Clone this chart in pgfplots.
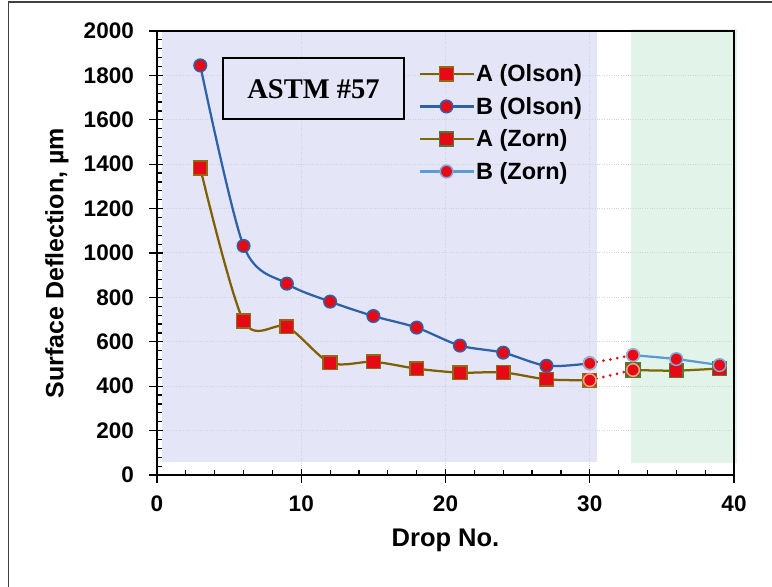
\documentclass[border=0pt]{standalone}
\usepackage{fontspec}
\setmainfont{Liberation Sans}
\newfontfamily\timesfont{Liberation Serif}
\usepackage{pgfplots}
\pgfplotsset{compat=1.18}

\definecolor{lav}{HTML}{E5E5F8}
\definecolor{mint}{HTML}{E2F4E9}
\definecolor{aolson}{HTML}{7F6000}
\definecolor{aedge}{HTML}{8F6B14}
\definecolor{bolson}{HTML}{2E62A6}
\definecolor{azorn}{HTML}{7A6A00}
\definecolor{azornedge}{HTML}{4F7A35}
\definecolor{bzorn}{HTML}{5B9BD5}
\definecolor{bzornedge}{HTML}{7FA8DA}
\definecolor{mred}{HTML}{E60A17}
\definecolor{peach}{HTML}{F2A57A}
\definecolor{grayblue}{HTML}{A3AECB}
\definecolor{gridc}{HTML}{D2D2DA}

\pgfplotstableread{
drop defl
3  1383
6  694
9  668
12 506
15 510
18 479
21 461
24 462
27 431
30 427
}\aolsontab
\pgfplotstableread{
drop defl
3  1845
6  1032
9  862
12 781
15 716
18 664
21 583
24 551
27 492
30 503
}\bolsontab
\pgfplotstableread{
drop defl
33 473
36 470
39 480
}\azorntab
\pgfplotstableread{
drop defl
33 540
36 522
39 495
}\bzorntab

\begin{document}
\begin{tikzpicture}
\begin{axis}[
  at={(157bp,112bp)}, anchor=south west,
  scale only axis, width=577bp, height=444bp,
  xmin=0, xmax=40, ymin=0, ymax=2000,
  xtick={0,10,...,40}, ytick={0,200,...,2000},
  minor x tick num=4, minor y tick num=4,
  xtick pos=left, ytick pos=left,
  tick align=inside,
  major tick length=6bp, minor tick length=5bp,
  tick style={black, line width=1.2bp},
  extra x ticks={0,10,20,30,40}, extra x tick labels={},
  extra x tick style={tick align=outside, major tick length=8bp, grid=none},
  extra y ticks={0,200,...,2000}, extra y tick labels={},
  extra y tick style={tick align=outside, major tick length=8bp, grid=none},
  axis line style={black, line width=1.5bp},
  grid=major, major grid style={gridc, dotted, line width=1bp},
  clip=false,
  set layers,
  /pgf/number format/assume math mode=true,
  /pgf/number format/1000 sep={},
  ticklabel style={font=\fontsize{22.5bp}{26bp}\selectfont\bfseries, inner sep=0pt},
  yticklabel style={xshift=-23bp},
  xticklabel style={yshift=-21bp},
  xlabel={Drop No.},
  ylabel={Surface Deflection, µm},
  xlabel style={at={([yshift=-65bp]axis description cs:0.5,0)}, anchor=center,
    font=\fontsize{25.5bp}{30bp}\selectfont\bfseries},
  ylabel style={at={([xshift=-100bp,yshift=-10bp]axis description cs:0,0.5)}, anchor=center,
    font=\fontsize{25bp}{30bp}\selectfont\bfseries},
  legend cell align=left,
  legend style={at={(axis cs:17.9,1865)}, anchor=north west, draw=none, fill=none,
    font=\fontsize{23.5bp}{27bp}\selectfont\bfseries, row sep=11bp,
    nodes={inner sep=1.5bp}},
  legend image code/.code={\draw[mark repeat=2,mark phase=2]
    plot coordinates {(0bp,0bp) (27bp,0bp) (54bp,0bp)};},
]
% shaded background regions
\addplot[draw=none, fill=lav, on layer=axis background, forget plot]
  coordinates {(0.35,60) (30.47,60) (30.47,2000) (0.35,2000)} -- cycle;
\addplot[draw=none, fill=mint, on layer=axis background, forget plot]
  coordinates {(32.85,52) (40.2,52) (40.2,2010) (32.85,2010)} -- cycle;

\addplot[aolson, line width=2.25bp, smooth, mark=square*, mark size=6.9bp,
  mark options={fill=mred, draw=aedge, line width=1.5bp}]
  table[x=drop, y=defl] {\aolsontab};
\addlegendentry{A (Olson)}
\addplot[bolson, line width=2.25bp, smooth, mark=*, mark size=6.3bp,
  mark options={fill=mred, draw=bolson, line width=1.5bp}]
  table[x=drop, y=defl] {\bolsontab};
\addlegendentry{B (Olson)}
\addplot[azorn, line width=2.25bp, smooth, mark=square*, mark size=6.9bp,
  mark options={fill=mred, draw=azornedge, line width=1.5bp}]
  table[x=drop, y=defl] {\azorntab};
\addlegendentry{A (Zorn)}
\addplot[bzorn, line width=2.25bp, smooth, mark=*, mark size=6.3bp,
  mark options={fill=mred, draw=bzornedge, line width=1.5bp}]
  table[x=drop, y=defl] {\bzorntab};
\addlegendentry{B (Zorn)}

% dotted links between the two data sets
\addplot[mred, line width=3bp, line cap=round, dash pattern=on 0bp off 7bp,
  mark=*, mark size=6.3bp, mark options={solid, fill=mred, draw=peach, line width=1.5bp},
  forget plot] coordinates {(30,427) (33,473)};
\addplot[mred, line width=3bp, line cap=round, dash pattern=on 0bp off 7bp,
  mark=*, mark size=6.3bp, mark options={solid, fill=mred, draw=grayblue, line width=1.5bp},
  forget plot] coordinates {(30,503) (33,540)};

\node[draw=black, line width=1.5bp, fill=lav, minimum width=181bp, minimum height=61bp,
  font=\timesfont\bfseries\fontsize{28.5bp}{32bp}\selectfont]
  at (axis cs:10.85,1740) {ASTM \#57};
\end{axis}
\draw[line width=1.5bp, black!75] (8.5bp,0bp) -- (8.5bp,585bp) -- (772bp,585bp);
\pgfresetboundingbox
\useasboundingbox (0bp,0bp) rectangle (772bp,587bp);
\end{tikzpicture}
\end{document}
